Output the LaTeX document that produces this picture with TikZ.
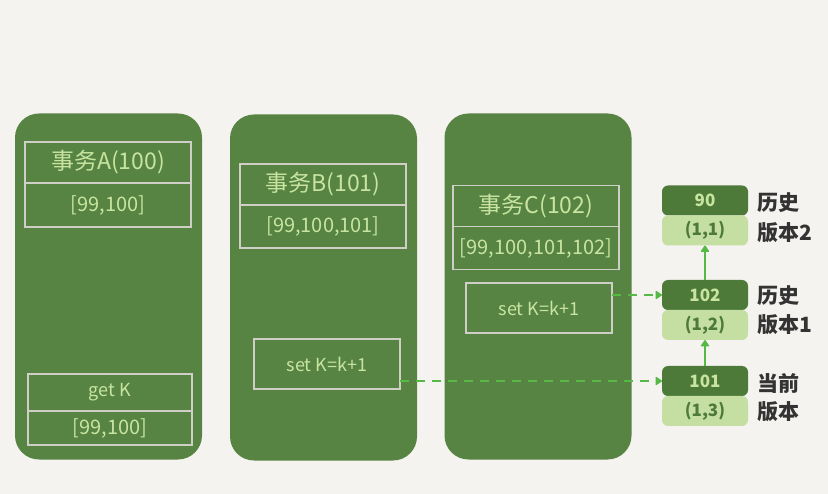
\documentclass[tikz,border=0pt]{standalone}
\usepackage{fontspec}
\usepackage{tikz}
\usetikzlibrary{arrows.meta,positioning}
\newfontfamily\cjk{Noto Sans CJK SC}
\definecolor{paper}{HTML}{F4F3EF}
\definecolor{panelgreen}{HTML}{578442}
\definecolor{chalk}{HTML}{C8E4A0}
\definecolor{frame}{HTML}{CFCFC8}
\definecolor{verdark}{HTML}{4D7A38}
\definecolor{verlight}{HTML}{C5DFA3}
\definecolor{link}{HTML}{56B845}
\definecolor{ink}{HTML}{333333}
\tikzset{
	panel/.style    = {fill=panelgreen, rounded corners=24pt, minimum width=187pt,
		minimum height=346pt},
	cell/.style     = {draw=frame, line width=1.2pt, minimum width=166pt, text=chalk,
		font=\cjk\fontsize{20}{22}\selectfont, inner sep=0pt, outer sep=0pt},
	title/.style    = {cell, minimum height=41pt, font=\cjk\fontsize{23}{25}\selectfont},
	opbox/.style    = {cell, minimum width=146pt, minimum height=50pt,
		font=\cjk\fontsize{18}{20}\selectfont},
	vtop/.style     = {fill=verdark, rounded corners=6pt, minimum width=86pt,
		minimum height=30pt, text=chalk, font=\cjk\bfseries\fontsize{17}{19}\selectfont,
		inner sep=0pt, outer sep=0pt},
	vbot/.style     = {vtop, fill=verlight, text=verdark},
	vlabel/.style   = {text=ink, font=\cjk\bfseries\fontsize{21}{23}\selectfont, inner sep=0pt},
	uplink/.style   = {draw=link, line width=1.3pt, -{Triangle[round,length=7pt,width=9pt]}},
	readlink/.style = {uplink, dashed, dash pattern=on 9pt off 7pt}
}

\begin{document}
\begin{tikzpicture}[x=1pt, y=-1pt]
	\useasboundingbox[fill=paper] (0,0) rectangle (828,494);
	% three transactions
	\node[panel] (pA) at (108.5,286.5) {};
	\node[panel] (pB) at (323.5,287.5) {};
	\node[panel] (pC) at (538,286.5) {};
	
	\node[title] (tA) at (108,162.5) {事务A(100)};
	\node[cell, minimum height=44pt, below=0pt of tA] (lA) {[99,100]};
	\node[cell, minimum width=164pt, minimum height=37pt, font=\cjk\fontsize{18}{20}\selectfont] (gA) at (110,392.5) {get K};
	\node[cell, minimum width=164pt, minimum height=34pt, below=0pt of gA] (rA) {[99,100]};
	
	\node[title] (tB) at (323,184.5) {事务B(101)};
	\node[cell, minimum height=43pt, below=0pt of tB] (lB) {[99,100,101]};
	\node[opbox] (sB) at (327,364) {set K=k+1};
	
	\node[title] (tC) at (536,206) {事务C(102)};
	\node[cell, minimum height=43pt, below=0pt of tC] (lC) {[99,100,101,102]};
	\node[opbox] (sC) at (539,308) {set K=k+1};
	
	% version chain of K
	\node[vtop] (v90) at (705,200.5) {90};
	\node[vbot, below=0pt of v90] (r90) {(1,1)};
	\node[vtop] (v102) at (705,295) {102};
	\node[vbot, below=0pt of v102] (r102) {(1,2)};
	\node[vtop] (v101) at (705,381) {101};
	\node[vbot, below=0pt of v101] (r101) {(1,3)};
	
	\node[vlabel, anchor=west] (h2a) at (757,203) {历史};
	\node[vlabel, anchor=west] (h2b) at (757,233) {版本2};
	\node[vlabel, anchor=west] (h1a) at (757,296) {历史};
	\node[vlabel, anchor=west] (h1b) at (757,325) {版本1};
	\node[vlabel, anchor=west] (cura) at (757,383) {当前};
	\node[vlabel, anchor=west] (curb) at (757,412) {版本};
	
	\draw[uplink] (v101.north) -- (r102.south);
	\draw[uplink] (v102.north) -- (r90.south);
	\draw[readlink] (sC.east |- v102.west) -- (v102.west);
	\draw[readlink] (sB.east |- v101.west) -- (v101.west);
	
\end{tikzpicture}
\end{document}
